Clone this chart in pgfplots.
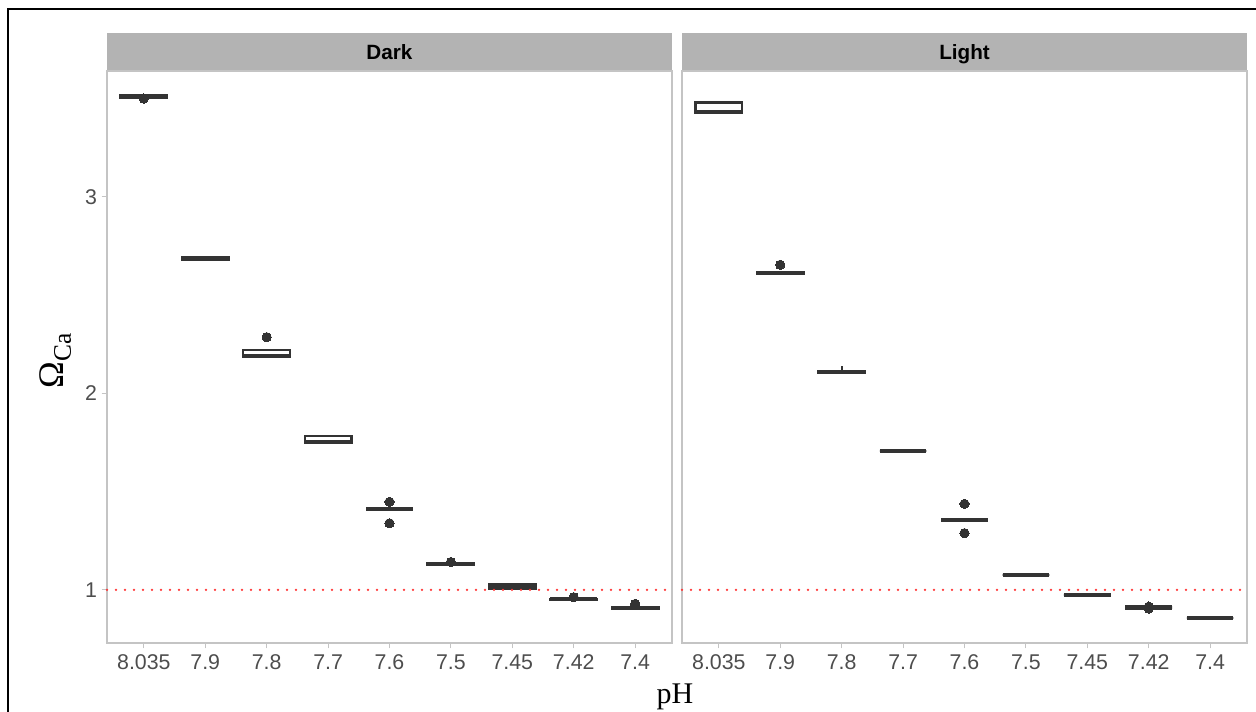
\documentclass[border=0pt]{standalone}
\usepackage{fontspec}
\setmainfont{Liberation Sans}
\newfontfamily\seriffont{Liberation Serif}
\usepackage{pgfplots}
\pgfplotsset{compat=1.18}
\usepgfplotslibrary{statistics}
\definecolor{boxc}{HTML}{333333}
\definecolor{stripc}{HTML}{B3B3B3}
\definecolor{borderc}{HTML}{C4C4C4}
\definecolor{tickc}{HTML}{4D4D4D}
\definecolor{refred}{HTML}{FF3333}

\pgfplotsset{
 facet/.style={
  anchor=south west, scale only axis, width=423.75pt, height=429pt,
  xmin=0.4, xmax=9.6, ymin=0.73, ymax=3.64,
  axis line style={draw=borderc, line width=1pt},
  tick align=outside, major tick length=4pt,
  every tick/.style={draw=borderc, line width=0.8pt},
  xtick={1,...,9},
  xticklabels={8.035,7.9,7.8,7.7,7.6,7.5,7.45,7.42,7.4},
  xtick pos=bottom, ytick pos=left,
  ticklabel style={font=\fontsize{16}{19}\selectfont, text=tickc},
  xticklabel style={yshift=-1pt},
  clip=false,
  boxplot/draw direction=y,
  boxplot/box extend=0.76,
  boxplot/whisker extend=0,
  boxplot/every median/.style={line width=3.2pt},
 },
 bx/.style={draw=boxc, line width=1.7pt, solid, mark=*, mark size=3.5pt,
   mark options={fill=boxc, draw=boxc, line width=0pt}},
 refl/.style={refred, line width=1.9pt, line cap=round, dash pattern=on 0pt off 6.75pt, mark=none},
}

\begin{document}
\begin{tikzpicture}
\useasboundingbox (0,0) rectangle (942pt,-533.25pt);
% frame
\draw[black, line width=1.5pt] (6pt,-560pt) -- (6pt,-6.75pt) -- (960pt,-6.75pt);
% strips
\fill[stripc] (80.25pt,-53.25pt) rectangle (504pt,-24.75pt);
\fill[stripc] (511.5pt,-53.25pt) rectangle (935.25pt,-24.75pt);
\node[anchor=base, font=\fontsize{15.5}{18}\selectfont\bfseries, text=black] at (292.1pt,-44.4pt) {Dark};
\node[anchor=base, font=\fontsize{15.5}{18}\selectfont\bfseries, text=black] at (723.4pt,-44.4pt) {Light};

% Dark panel
\begin{axis}[facet, at={(80.25pt,-482.25pt)}, ytick={1,2,3}, yticklabels={1,2,3}]
\addplot[bx, boxplot prepared={draw position=1, lower whisker=3.505, lower quartile=3.505, median=3.51, upper quartile=3.515, upper whisker=3.515}] coordinates {(0,3.50)};
\addplot[bx, boxplot prepared={draw position=2, lower whisker=2.678, lower quartile=2.678, median=2.685, upper quartile=2.692, upper whisker=2.692}] coordinates {};
\addplot[bx, boxplot prepared={draw position=3, lower whisker=2.187, lower quartile=2.187, median=2.19, upper quartile=2.221, upper whisker=2.221}] coordinates {(0,2.286)};
\addplot[bx, boxplot prepared={draw position=4, lower whisker=1.747, lower quartile=1.747, median=1.752, upper quartile=1.784, upper whisker=1.784}] coordinates {};
\addplot[bx, boxplot prepared={draw position=5, lower whisker=1.41, lower quartile=1.41, median=1.41, upper quartile=1.41, upper whisker=1.41}] coordinates {(0,1.448) (0,1.339)};
\addplot[bx, boxplot prepared={draw position=6, lower whisker=1.128, lower quartile=1.128, median=1.131, upper quartile=1.134, upper whisker=1.134}] coordinates {(0,1.142)};
\addplot[bx, boxplot prepared={draw position=7, lower whisker=1.005, lower quartile=1.005, median=1.012, upper quartile=1.03, upper whisker=1.03}] coordinates {};
\addplot[bx, boxplot prepared={draw position=8, lower whisker=0.95, lower quartile=0.95, median=0.953, upper quartile=0.955, upper whisker=0.955}] coordinates {(0,0.963)};
\addplot[bx, boxplot prepared={draw position=9, lower whisker=0.905, lower quartile=0.905, median=0.908, upper quartile=0.91, upper whisker=0.91}] coordinates {(0,0.929)};
\addplot[refl] coordinates {(0.4,1) (9.6,1)};
\end{axis}

% Light panel
\begin{axis}[facet, at={(511.5pt,-482.25pt)}, ytick=\empty]
\addplot[bx, boxplot prepared={draw position=1, lower whisker=3.42, lower quartile=3.428, median=3.432, upper quartile=3.48, upper whisker=3.48}] coordinates {};
\addplot[bx, boxplot prepared={draw position=2, lower whisker=2.61, lower quartile=2.61, median=2.613, upper quartile=2.617, upper whisker=2.617}] coordinates {(0,2.654)};
\addplot[bx, boxplot prepared={draw position=3, lower whisker=2.102, lower quartile=2.104, median=2.109, upper quartile=2.114, upper whisker=2.14}] coordinates {};
\addplot[bx, boxplot prepared={draw position=4, lower whisker=1.707, lower quartile=1.707, median=1.707, upper quartile=1.707, upper whisker=1.707}] coordinates {};
\addplot[bx, boxplot prepared={draw position=5, lower whisker=1.356, lower quartile=1.356, median=1.356, upper quartile=1.356, upper whisker=1.356}] coordinates {(0,1.438) (0,1.289)};
\addplot[bx, boxplot prepared={draw position=6, lower whisker=1.076, lower quartile=1.076, median=1.076, upper quartile=1.076, upper whisker=1.076}] coordinates {};
\addplot[bx, boxplot prepared={draw position=7, lower whisker=0.973, lower quartile=0.973, median=0.973, upper quartile=0.973, upper whisker=0.973}] coordinates {};
\addplot[bx, boxplot prepared={draw position=8, lower whisker=0.91, lower quartile=0.91, median=0.91, upper quartile=0.91, upper whisker=0.91}] coordinates {(0,0.905) (0,0.915)};
\addplot[bx, boxplot prepared={draw position=9, lower whisker=0.857, lower quartile=0.857, median=0.857, upper quartile=0.857, upper whisker=0.857}] coordinates {};
\addplot[refl] coordinates {(0.4,1) (9.6,1)};
\end{axis}

% axis titles
\node[anchor=base, font=\seriffont\fontsize{22.5}{24}\selectfont] at (506.25pt,-527.25pt) {pH};
\node[anchor=base, rotate=90, font=\seriffont] at (47.25pt,-270.75pt) {\fontsize{27}{30}\selectfont Ω\raisebox{-0.22em}{\fontsize{19}{20}\selectfont Ca}};
\end{tikzpicture}
\end{document}
